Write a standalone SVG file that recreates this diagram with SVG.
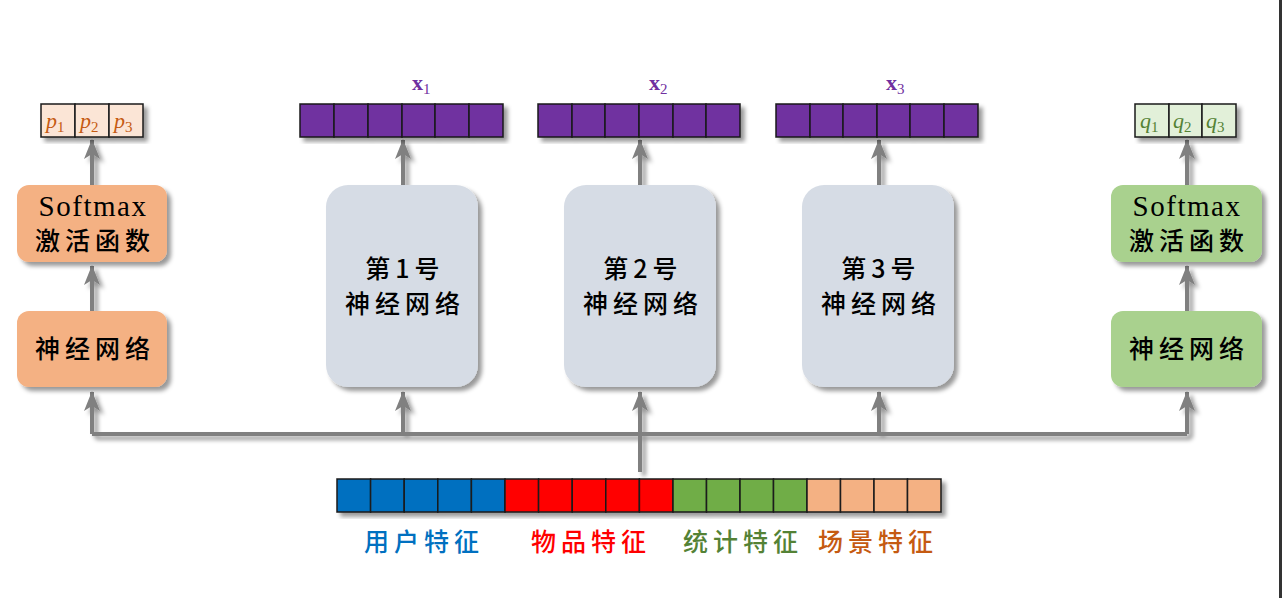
<svg xmlns="http://www.w3.org/2000/svg" width="1282" height="598" viewBox="0 0 1282 598">
<defs>
<filter id="sh" x="-20%" y="-20%" width="140%" height="140%">
<feDropShadow dx="4" dy="4" stdDeviation="2" flood-color="#000" flood-opacity="0.4"/>
</filter>
<marker id="ah" viewBox="0 0 20 16" refX="19" refY="8" markerWidth="20" markerHeight="16" markerUnits="userSpaceOnUse" orient="auto">
<path d="M0,0 L20,8 L0,16 L5,8 Z" fill="#808080"/>
</marker>
<style>
.cell{stroke:#1a1a1a;stroke-width:1.5}
.conn{fill:none;stroke:#808080;stroke-width:4}
.cjk{font-family:"Noto Sans CJK SC","Liberation Serif",serif;font-weight:500;font-size:25px;text-anchor:middle;letter-spacing:5px}
.lat{font-family:"Liberation Serif",serif;font-size:29px;text-anchor:middle;letter-spacing:1.5px}
.math{font-family:"Liberation Serif",serif;font-style:italic;font-size:22px}
.sub{font-family:"Liberation Serif",serif;font-size:15px;font-style:normal}
.xl{font-family:"Liberation Serif",serif;font-weight:bold;font-size:22px;fill:#7030a0}
.xs{font-weight:normal;font-size:15px}
</style>
</defs>
<rect width="1282" height="598" fill="#fff"/>
<rect x="1279" y="0" width="3" height="598" fill="#333"/>

<g id="connectors" filter="url(#sh)">
<path class="conn" d="M92,434 H1187"/>
<path class="conn" d="M92,434 V392" marker-end="url(#ah)"/>
<path class="conn" d="M403,434 V392" marker-end="url(#ah)"/>
<path class="conn" d="M879,434 V392" marker-end="url(#ah)"/>
<path class="conn" d="M1187,434 V392" marker-end="url(#ah)"/>
<path class="conn" d="M640,472 V392" marker-end="url(#ah)"/>
<path class="conn" d="M92,311 V266" marker-end="url(#ah)"/>
<path class="conn" d="M1187,311 V266" marker-end="url(#ah)"/>
<path class="conn" d="M92,185 V140" marker-end="url(#ah)"/>
<path class="conn" d="M1187,185 V140" marker-end="url(#ah)"/>
<path class="conn" d="M403,185 V140" marker-end="url(#ah)"/>
<path class="conn" d="M640,185 V140" marker-end="url(#ah)"/>
<path class="conn" d="M879,185 V140" marker-end="url(#ah)"/>
</g>

<g id="p-vec">
<g filter="url(#sh)" fill="#fbe5d6">
<rect class="cell" x="41" y="104" width="34" height="33"/>
<rect class="cell" x="75" y="104" width="34" height="33"/>
<rect class="cell" x="109" y="104" width="34" height="33"/>
</g>
<g fill="#c55a11">
<text class="math" x="46" y="128">p<tspan class="sub" dy="4">1</tspan></text>
<text class="math" x="80" y="128">p<tspan class="sub" dy="4">2</tspan></text>
<text class="math" x="114" y="128">p<tspan class="sub" dy="4">3</tspan></text>
</g>
</g>

<g id="softmax-left">
<rect x="17" y="185" width="150" height="77" rx="12" fill="#f4b183" filter="url(#sh)"/>
<text class="lat" x="93" y="216">Softmax</text>
<text class="cjk" x="95" y="250">激活函数</text>
</g>
<g id="nn-left">
<rect x="17" y="311" width="150" height="76" rx="12" fill="#f4b183" filter="url(#sh)"/>
<text class="cjk" x="95" y="358">神经网络</text>
</g>

<g id="q-vec">
<g filter="url(#sh)" fill="#e2f0d9">
<rect class="cell" x="1135" y="104" width="34" height="33"/>
<rect class="cell" x="1169" y="104" width="33" height="33"/>
<rect class="cell" x="1202" y="104" width="34" height="33"/>
</g>
<g fill="#548235">
<text class="math" x="1140" y="128">q<tspan class="sub" dy="4">1</tspan></text>
<text class="math" x="1173" y="128">q<tspan class="sub" dy="4">2</tspan></text>
<text class="math" x="1206" y="128">q<tspan class="sub" dy="4">3</tspan></text>
</g>
</g>
<g id="softmax-right">
<rect x="1111" y="185" width="151" height="77" rx="12" fill="#a9d18e" filter="url(#sh)"/>
<text class="lat" x="1187" y="216">Softmax</text>
<text class="cjk" x="1189" y="250">激活函数</text>
</g>
<g id="nn-right">
<rect x="1111" y="311" width="151" height="76" rx="12" fill="#a9d18e" filter="url(#sh)"/>
<text class="cjk" x="1189" y="358">神经网络</text>
</g>

<g id="x1">
<g filter="url(#sh)" fill="#7030a0">
<rect class="cell" x="300" y="104" width="34" height="33"/><rect class="cell" x="334" y="104" width="34" height="33"/><rect class="cell" x="368" y="104" width="34" height="33"/><rect class="cell" x="402" y="104" width="33" height="33"/><rect class="cell" x="435" y="104" width="34" height="33"/><rect class="cell" x="469" y="104" width="34" height="33"/>
</g>
<text class="xl" x="412" y="90">x<tspan class="xs" dy="4">1</tspan></text>
</g>
<g id="x2">
<g filter="url(#sh)" fill="#7030a0">
<rect class="cell" x="538" y="104" width="34" height="33"/><rect class="cell" x="572" y="104" width="33" height="33"/><rect class="cell" x="605" y="104" width="34" height="33"/><rect class="cell" x="639" y="104" width="34" height="33"/><rect class="cell" x="673" y="104" width="33" height="33"/><rect class="cell" x="706" y="104" width="34" height="33"/>
</g>
<text class="xl" x="649" y="90">x<tspan class="xs" dy="4">2</tspan></text>
</g>
<g id="x3">
<g filter="url(#sh)" fill="#7030a0">
<rect class="cell" x="776" y="104" width="34" height="33"/><rect class="cell" x="810" y="104" width="33" height="33"/><rect class="cell" x="843" y="104" width="34" height="33"/><rect class="cell" x="877" y="104" width="33" height="33"/><rect class="cell" x="910" y="104" width="34" height="33"/><rect class="cell" x="944" y="104" width="34" height="33"/>
</g>
<text class="xl" x="886" y="90">x<tspan class="xs" dy="4">3</tspan></text>
</g>

<g id="nn1">
<rect x="326" y="185" width="152" height="202" rx="22" fill="#d6dce5" filter="url(#sh)"/>
<text class="cjk" x="405" y="278">第1号</text>
<text class="cjk" x="405" y="313">神经网络</text>
</g>
<g id="nn2">
<rect x="564" y="185" width="152" height="202" rx="22" fill="#d6dce5" filter="url(#sh)"/>
<text class="cjk" x="643" y="278">第2号</text>
<text class="cjk" x="643" y="313">神经网络</text>
</g>
<g id="nn3">
<rect x="802" y="185" width="152" height="202" rx="22" fill="#d6dce5" filter="url(#sh)"/>
<text class="cjk" x="881" y="278">第3号</text>
<text class="cjk" x="881" y="313">神经网络</text>
</g>

<g id="features">
<g filter="url(#sh)">
<rect class="cell" x="337" y="479" width="33.6" height="33" fill="#0070c0"/>
<rect class="cell" x="370.6" y="479" width="33.6" height="33" fill="#0070c0"/>
<rect class="cell" x="404.2" y="479" width="33.6" height="33" fill="#0070c0"/>
<rect class="cell" x="437.8" y="479" width="33.6" height="33" fill="#0070c0"/>
<rect class="cell" x="471.4" y="479" width="33.6" height="33" fill="#0070c0"/>
<rect class="cell" x="505" y="479" width="33.6" height="33" fill="#ff0000"/>
<rect class="cell" x="538.6" y="479" width="33.6" height="33" fill="#ff0000"/>
<rect class="cell" x="572.2" y="479" width="33.6" height="33" fill="#ff0000"/>
<rect class="cell" x="605.8" y="479" width="33.6" height="33" fill="#ff0000"/>
<rect class="cell" x="639.4" y="479" width="33.6" height="33" fill="#ff0000"/>
<rect class="cell" x="673" y="479" width="33.5" height="33" fill="#70ad47"/>
<rect class="cell" x="706.5" y="479" width="33.5" height="33" fill="#70ad47"/>
<rect class="cell" x="740" y="479" width="33.5" height="33" fill="#70ad47"/>
<rect class="cell" x="773.5" y="479" width="33.5" height="33" fill="#70ad47"/>
<rect class="cell" x="807" y="479" width="33.5" height="33" fill="#f4b183"/>
<rect class="cell" x="840.5" y="479" width="33.5" height="33" fill="#f4b183"/>
<rect class="cell" x="874" y="479" width="33.5" height="33" fill="#f4b183"/>
<rect class="cell" x="907.5" y="479" width="33.5" height="33" fill="#f4b183"/>
</g>
<text class="cjk" x="424" y="551" fill="#0070c0">用户特征</text>
<text class="cjk" x="591" y="551" fill="#ff0000">物品特征</text>
<text class="cjk" x="743" y="551" fill="#548235">统计特征</text>
<text class="cjk" x="878" y="551" fill="#c55a11">场景特征</text>
</g>
</svg>
